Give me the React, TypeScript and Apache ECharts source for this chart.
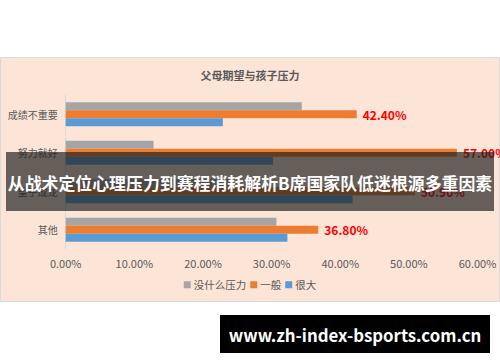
import React, { useEffect, useRef } from "react";
import * as echarts from "echarts";

const categories = ["成绩不重要", "努力就好", "望子成龙", "其他"];
const seriesNames = ["没什么压力", "一般", "很大"];
const noPressure = [34.4, 12.8, 24.0, 30.7];
const normal = [42.4, 57.0, 50.9, 36.8];
const heavy = [22.9, 30.2, 41.8, 32.3];
const xTicks = [0, 10, 20, 30, 40, 50, 60];
const chartTitle = "父母期望与孩子压力";
const bannerText = "从战术定位心理压力到赛程消耗解析B席国家队低迷根源多重因素";
const siteText = "www.zh-index-bsports.com.cn";

const FONT = "'Noto Sans CJK SC', 'Noto Sans', sans-serif";

export default function App() {
  const ref = useRef<HTMLDivElement>(null);
  useEffect(() => {
    if (!ref.current) return;
    const chart = echarts.init(ref.current, null, { renderer: "svg" });
    chart.setOption({
      animation: false,
      backgroundColor: "#ffffff",
      title: {
        text: chartTitle,
        left: "center",
        top: 64,
        textStyle: { fontFamily: FONT, fontSize: 11, fontWeight: "bold", color: "#595959" },
      },
      legend: {
        data: seriesNames,
        bottom: 67,
        left: "center",
        icon: "rect",
        itemWidth: 7,
        itemHeight: 7,
        itemGap: 4,
        textStyle: { fontFamily: FONT, fontSize: 10.5, color: "#595959", padding: [0, 0, 0, -2] },
      },
      grid: { left: 65.7, right: 22.5, top: 95, bottom: 113 },
      xAxis: {
        type: "value",
        min: xTicks[0],
        max: xTicks[xTicks.length - 1],
        interval: 10,
        axisLine: { show: false },
        axisTick: { show: false },
        splitLine: { show: false },
        axisLabel: {
          formatter: (v: number) => v.toFixed(2) + "%",
          fontFamily: FONT,
          fontSize: 11,
          color: "#595959",
          margin: 8,
        },
      },
      yAxis: {
        type: "category",
        data: categories,
        inverse: true,
        axisLine: { show: true, lineStyle: { color: "#D9D9D9" } },
        axisTick: { show: false },
        axisLabel: { fontFamily: FONT, fontSize: 10, color: "#595959", margin: 8 },
      },
      series: [
        {
          name: seriesNames[0],
          type: "bar",
          data: noPressure,
          barWidth: 8,
          barGap: "0%",
          itemStyle: { color: "#A5A5A5" },
        },
        {
          name: seriesNames[1],
          type: "bar",
          data: normal,
          barWidth: 8,
          barGap: "0%",
          itemStyle: { color: "#ED7D31" },
          label: {
            show: true,
            position: "right",
            distance: 6,
            formatter: (p: any) => p.value.toFixed(2) + "%",
            fontFamily: FONT,
            fontSize: 12,
            fontWeight: "bold",
            color: "#FF0000",
          },
        },
        {
          name: seriesNames[2],
          type: "bar",
          data: heavy,
          barWidth: 8,
          barGap: "0%",
          itemStyle: { color: "#5B9BD5" },
        },
      ],
      graphic: [
        {
          type: "rect",
          z: -10,
          silent: true,
          shape: { x: 0.5, y: 57.5, width: 499, height: 244 },
          style: { fill: "#FCE5D7", stroke: "#D9D9D9", lineWidth: 1 },
        },
        {
          type: "rect",
          z: 100,
          silent: true,
          shape: { x: 6, y: 152, width: 488, height: 59 },
          style: { fill: "rgba(30,30,30,0.68)" },
        },
        {
          type: "text",
          z: 101,
          silent: true,
          x: 250,
          y: 182,
          style: {
            text: bannerText,
            fill: "#ffffff",
            fontFamily: FONT,
            fontSize: 16.9,
            fontWeight: "bold",
            align: "center",
            verticalAlign: "middle",
          },
        },
        {
          type: "rect",
          z: 100,
          silent: true,
          shape: { x: 220, y: 315, width: 270, height: 38 },
          style: { fill: "#000000" },
        },
        {
          type: "text",
          z: 101,
          silent: true,
          x: 355,
          y: 335,
          style: {
            text: siteText,
            fill: "#ffffff",
            fontFamily: FONT,
            fontSize: 16.8,
            fontWeight: "bold",
            align: "center",
            verticalAlign: "middle",
          },
        },
      ],
    });
    return () => chart.dispose();
  }, []);
  return (
    <div
      ref={ref}
      style={{ position: "fixed", left: 0, top: 0, width: 500, height: 362 }}
    />
  );
}
